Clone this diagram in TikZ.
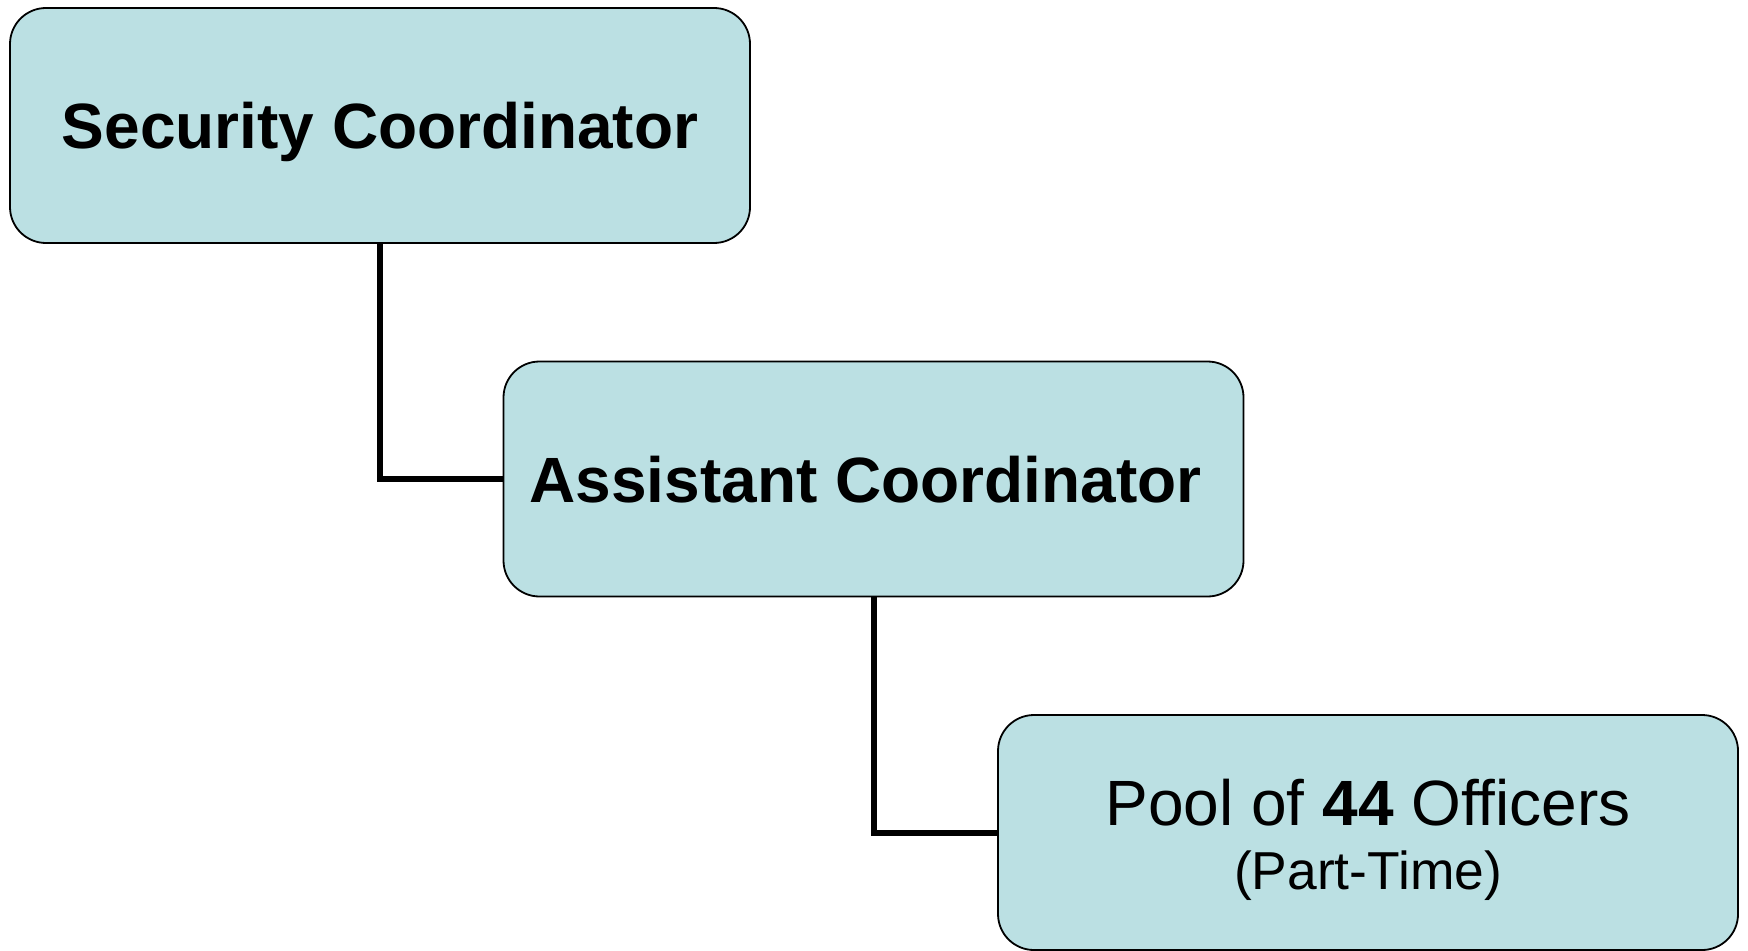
\documentclass[tikz,border=0pt]{standalone}
\usepackage{fontspec}
\setmainfont{Liberation Sans}
\definecolor{boxfill}{HTML}{BBE0E3}
\begin{document}
\begin{tikzpicture}[x=0.5pt,y=0.5pt,
  orgbox/.style={draw=black, line width=0.9pt, fill=boxfill, rounded corners=18pt,
    minimum width=370pt, minimum height=117.5pt, inner sep=0pt, anchor=center},
  titlebox/.style={orgbox, font=\bfseries\fontsize{32}{36}\selectfont,
    text height=23pt, text depth=0pt},
  poolbox/.style={orgbox, align=center, font=\fontsize{32}{32}\selectfont},
  link/.style={draw=black, line width=3pt}]
  \useasboundingbox (0,0) rectangle (1748,950);
  \node[titlebox] (sec) at (380,824.5) {Security Coordinator};
  \node[titlebox] (asst) at (873.5,471) {Assistant Coordinator\hspace*{8pt}};
  % strut on the first line lowers the two-line label a little
  \node[poolbox] (pool) at (1368,117.5)
    {\rule{0pt}{31pt}Pool of \textbf{44} Officers\\{\fontsize{26.7}{32}\selectfont(Part-Time)}};
  \draw[link] (sec.south) |- (asst.west);
  \draw[link] (asst.south) |- (pool.west);
\end{tikzpicture}
\end{document}
